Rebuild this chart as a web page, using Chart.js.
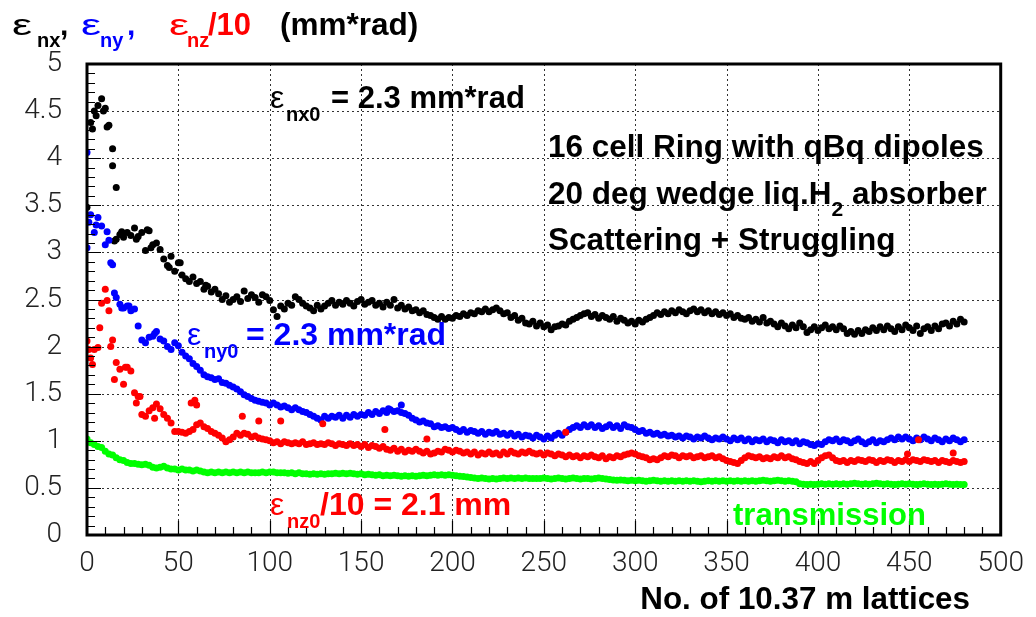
<!DOCTYPE html>
<html>
<head>
<meta charset="utf-8">
<script src="https://cdn.jsdelivr.net/npm/chart.js@4.4.1/dist/chart.umd.min.js"></script>
<style>
  html, body { margin: 0; padding: 0; background: #fff; }
  #chartCanvas { display: block; }
</style>
</head>
<body>
<canvas id="chartCanvas" width="1036" height="617"></canvas>
<script>
// --- data: one value every 2 lattices, x = 0..480 ---
const LATTICE_STEP = 2;

const emitX = [
  3.48,4.38,4.50,4.56,4.63,4.53,4.35,4.10,3.14,3.19,
  3.16,3.21,3.18,3.26,3.17,3.21,3.02,3.23,3.08,3.10,
  3.03,2.93,2.86,2.96,2.80,2.89,2.76,2.72,2.69,2.74,
  2.67,2.69,2.61,2.64,2.58,2.61,2.56,2.50,2.54,2.47,
  2.50,2.53,2.48,2.59,2.51,2.55,2.52,2.47,2.55,2.53,
  2.49,2.39,2.32,2.43,2.40,2.46,2.44,2.53,2.50,2.46,
  2.43,2.41,2.38,2.44,2.40,2.43,2.46,2.49,2.44,2.47,
  2.45,2.49,2.46,2.43,2.48,2.50,2.45,2.47,2.49,2.44,
  2.46,2.42,2.47,2.44,2.50,2.41,2.44,2.40,2.42,2.38,
  2.39,2.36,2.38,2.34,2.33,2.31,2.29,2.32,2.29,2.31,
  2.30,2.33,2.32,2.35,2.33,2.36,2.35,2.38,2.37,2.40,
  2.37,2.39,2.41,2.38,2.35,2.36,2.31,2.33,2.28,2.30,
  2.25,2.24,2.27,2.22,2.25,2.21,2.23,2.18,2.21,2.22,
  2.24,2.23,2.27,2.29,2.31,2.33,2.35,2.36,2.32,2.34,
  2.30,2.33,2.31,2.29,2.32,2.27,2.30,2.28,2.25,2.27,
  2.24,2.28,2.26,2.29,2.31,2.33,2.36,2.34,2.37,2.35,
  2.38,2.36,2.39,2.37,2.35,2.38,2.40,2.37,2.39,2.36,
  2.38,2.35,2.37,2.34,2.36,2.33,2.35,2.31,2.33,2.30,
  2.29,2.31,2.27,2.29,2.26,2.31,2.25,2.27,2.24,2.21,
  2.25,2.22,2.19,2.23,2.20,2.25,2.21,2.15,2.18,2.21,
  2.17,2.20,2.23,2.19,2.21,2.18,2.22,2.19,2.14,2.16,
  2.13,2.17,2.14,2.18,2.16,2.20,2.17,2.21,2.18,2.22,
  2.19,2.16,2.21,2.18,2.23,2.20,2.17,2.22,2.14,2.19,
  2.21,2.17,2.22,2.19,2.24,2.25,2.22,2.27,2.24,2.29,
  2.26
];

const emitY = [
  3.05,3.40,3.21,3.37,3.28,3.08,3.13,2.87,2.52,2.45,
  2.41,2.43,2.38,2.40,2.22,2.07,2.04,2.10,2.11,2.16,
  2.08,2.06,2.00,1.97,2.04,2.01,1.94,1.90,1.87,1.82,
  1.79,1.75,1.70,1.68,1.67,1.65,1.66,1.62,1.61,1.59,
  1.57,1.55,1.52,1.49,1.47,1.45,1.43,1.42,1.41,1.40,
  1.38,1.40,1.38,1.36,1.37,1.35,1.33,1.35,1.33,1.31,
  1.30,1.28,1.26,1.24,1.22,1.26,1.24,1.26,1.25,1.27,
  1.24,1.27,1.25,1.28,1.26,1.28,1.27,1.30,1.28,1.31,
  1.29,1.32,1.30,1.33,1.31,1.32,1.30,1.29,1.27,1.24,
  1.22,1.20,1.21,1.19,1.18,1.15,1.16,1.14,1.15,1.13,
  1.14,1.12,1.10,1.12,1.09,1.11,1.10,1.08,1.10,1.07,
  1.09,1.08,1.10,1.07,1.08,1.06,1.08,1.05,1.07,1.04,
  1.06,1.05,1.03,1.06,1.04,1.02,1.05,1.03,1.06,1.08,
  1.06,1.09,1.12,1.14,1.16,1.14,1.17,1.15,1.17,1.14,
  1.16,1.13,1.15,1.17,1.14,1.16,1.13,1.17,1.15,1.14,
  1.12,1.10,1.11,1.08,1.09,1.07,1.08,1.06,1.07,1.05,
  1.06,1.04,1.05,1.03,1.05,1.04,1.02,1.04,1.03,1.05,
  1.03,1.01,1.03,1.02,1.04,1.02,1.00,1.03,1.01,1.03,
  1.00,1.02,0.99,1.01,1.00,1.02,0.99,1.01,1.00,0.98,
  1.01,0.99,1.00,0.98,1.00,0.97,0.99,0.98,0.96,0.95,
  0.97,0.96,0.99,1.01,1.00,1.02,0.99,1.01,1.00,0.98,
  1.00,1.02,0.99,0.97,0.99,1.01,0.98,1.00,0.99,1.01,
  1.03,1.01,1.04,1.02,1.04,1.02,1.00,1.03,1.01,1.04,
  1.02,1.00,1.03,1.01,0.99,1.02,1.00,1.03,1.01,0.99,
  1.01
];

// eps_nz / 10
const emitZ = [
  2.06,1.88,1.97,1.99,2.46,2.61,2.38,2.07,1.83,1.76,
  1.60,1.78,1.74,1.51,1.47,1.28,1.26,1.32,1.35,1.39,
  1.34,1.28,1.24,1.19,1.10,1.10,1.09,1.08,1.10,1.12,
  1.17,1.19,1.15,1.13,1.10,1.08,1.06,1.03,0.99,1.01,
  1.04,1.08,1.06,1.08,1.07,1.04,1.05,1.03,1.02,1.01,
  1.00,0.98,0.99,0.97,0.99,0.98,0.97,0.98,0.97,0.99,
  0.96,0.97,0.98,0.96,0.97,0.96,0.98,0.97,0.95,0.97,
  0.96,0.95,0.97,0.95,0.96,0.94,0.96,0.93,0.95,0.94,
  0.92,0.94,0.91,0.90,0.92,0.89,0.91,0.88,0.90,0.89,
  0.91,0.89,0.87,0.89,0.86,0.87,0.89,0.88,0.91,0.90,
  0.88,0.90,0.89,0.87,0.88,0.86,0.88,0.85,0.87,0.86,
  0.88,0.86,0.87,0.85,0.88,0.86,0.89,0.87,0.86,0.88,
  0.87,0.89,0.87,0.86,0.87,0.85,0.87,0.86,0.84,0.86,
  0.85,0.83,0.85,0.83,0.84,0.82,0.84,0.83,0.85,0.83,
  0.82,0.84,0.81,0.83,0.82,0.84,0.83,0.85,0.86,0.87,
  0.86,0.84,0.83,0.82,0.80,0.81,0.80,0.82,0.84,0.83,
  0.85,0.84,0.82,0.84,0.83,0.84,0.82,0.83,0.84,0.82,
  0.83,0.84,0.82,0.83,0.81,0.79,0.78,0.77,0.76,0.79,
  0.82,0.84,0.83,0.82,0.83,0.81,0.82,0.81,0.83,0.82,
  0.84,0.82,0.83,0.81,0.80,0.78,0.77,0.76,0.78,0.76,
  0.79,0.82,0.84,0.85,0.82,0.79,0.78,0.79,0.77,0.79,
  0.78,0.80,0.79,0.78,0.80,0.79,0.77,0.79,0.78,0.80,
  0.79,0.77,0.79,0.78,0.80,0.78,0.80,0.79,0.78,0.80,
  0.79,0.78,0.79,0.77,0.79,0.78,0.77,0.79,0.78,0.77,
  0.78
];

const transmission = [
  1.02,0.98,0.96,0.94,0.93,0.89,0.86,0.85,0.82,0.80,
  0.79,0.77,0.76,0.76,0.75,0.745,0.75,0.74,0.72,0.71,
  0.72,0.73,0.71,0.70,0.70,0.69,0.70,0.69,0.69,0.68,
  0.69,0.68,0.67,0.66,0.67,0.66,0.67,0.66,0.67,0.66,
  0.67,0.66,0.67,0.66,0.67,0.66,0.66,0.66,0.67,0.66,
  0.67,0.67,0.66,0.66,0.66,0.655,0.66,0.65,0.66,0.65,
  0.65,0.645,0.65,0.645,0.65,0.645,0.65,0.65,0.655,0.65,
  0.655,0.65,0.655,0.65,0.645,0.65,0.64,0.645,0.64,0.635,
  0.64,0.63,0.635,0.63,0.635,0.63,0.625,0.63,0.625,0.63,
  0.625,0.63,0.635,0.63,0.635,0.64,0.635,0.64,0.635,0.64,
  0.635,0.63,0.625,0.62,0.615,0.61,0.605,0.60,0.605,0.60,
  0.595,0.60,0.595,0.60,0.605,0.60,0.605,0.60,0.605,0.60,
  0.605,0.60,0.60,0.60,0.60,0.605,0.60,0.595,0.60,0.605,
  0.60,0.595,0.60,0.605,0.60,0.595,0.60,0.60,0.595,0.60,
  0.605,0.60,0.595,0.59,0.585,0.58,0.585,0.58,0.575,0.58,
  0.575,0.58,0.575,0.57,0.575,0.58,0.575,0.57,0.575,0.57,
  0.575,0.57,0.575,0.57,0.575,0.57,0.575,0.57,0.565,0.57,
  0.575,0.57,0.575,0.57,0.575,0.57,0.575,0.57,0.575,0.57,
  0.575,0.57,0.575,0.57,0.575,0.58,0.575,0.57,0.575,0.58,
  0.575,0.57,0.575,0.57,0.565,0.545,0.54,0.535,0.54,0.535,
  0.54,0.545,0.54,0.545,0.54,0.545,0.54,0.545,0.54,0.545,
  0.55,0.545,0.54,0.545,0.54,0.545,0.55,0.545,0.54,0.545,
  0.54,0.535,0.54,0.545,0.54,0.545,0.54,0.535,0.54,0.545,
  0.54,0.535,0.54,0.535,0.54,0.545,0.54,0.535,0.54,0.535,
  0.535
];

// stray points that sit off the main bands, [lattice, value]
const emitXStray = [[3,4.31],[5,4.45],[9,4.50],[11,4.33],[14,3.92],[16,3.69],[15,3.12],[19,3.22],[27,3.14],[33,3.24],[35,3.05],[45,2.84],[51,2.89],[65,2.65]];
const emitYStray = [[0,4.06],[1,3.32],[5,3.29],[11,3.22],[13,2.89],[15,2.57],[19,2.41],[23,2.43],[37,2.14],[165,1.34],[172,1.38]];
const emitZStray = [[1,1.97],[3,1.81],[7,2.20],[11,2.49],[13,2.00],[15,1.65],[21,1.78],[27,1.40],[29,1.47],[37,1.24],[57,1.40],[59,1.43],[60,1.38],[85,1.26],[94,1.21],[106,1.21],[129,1.18],[163,1.12],[186,1.02],[262,1.09],[449,0.86],[455,1.01],[474,0.87]];

const xTicks = [0, 50, 100, 150, 200, 250, 300, 350, 400, 450, 500];
const yTicks = [0, 0.5, 1, 1.5, 2, 2.5, 3, 3.5, 4, 4.5, 5];

// --- helpers ---
const toPoints = (vals, stray) =>
  vals.map((v, i) => ({ x: i * LATTICE_STEP, y: v }))
      .concat((stray || []).map(p => ({ x: p[0], y: p[1] })));

const SANS = '"Liberation Sans", Arial, sans-serif';
const BOLD = s => `bold ${s}px ${SANS}`;
const REG = s => `${s}px ${SANS}`;

function dots(label, vals, stray, color) {
  return {
    label,
    data: toPoints(vals, stray),
    backgroundColor: color,
    borderWidth: 0,
    pointRadius: 3.5,
    pointHoverRadius: 3.5
  };
}

// draw runs of text; each run may set its own x, font, colour, vertical shift, x-stretch
function drawRuns(ctx, y, runs) {
  let x = 0;
  runs.forEach(r => {
    if (r.x !== undefined) x = r.x;
    ctx.font = r.font;
    ctx.fillStyle = r.color;
    ctx.save();
    ctx.translate(x, y + (r.dy || 0));
    ctx.scale(r.sx || 1, 1);
    ctx.fillText(r.text, 0, 0);
    ctx.restore();
    x += ctx.measureText(r.text).width * (r.sx || 1);
  });
}

// dotted grid behind the points
const gridPlugin = {
  id: "dottedGrid",
  beforeDatasetsDraw(chart) {
    const { ctx, chartArea: a, scales: { x, y } } = chart;
    ctx.save();
    ctx.strokeStyle = "#333";
    ctx.lineWidth = 1;
    ctx.setLineDash([2, 3]);
    ctx.beginPath();
    xTicks.slice(1, -1).forEach(v => {
      const px = Math.round(x.getPixelForValue(v)) + 0.5;
      ctx.moveTo(px, a.top); ctx.lineTo(px, a.bottom);
    });
    yTicks.slice(1, -1).forEach(v => {
      const py = Math.round(y.getPixelForValue(v)) + 0.5;
      ctx.moveTo(a.left, py); ctx.lineTo(a.right, py);
    });
    ctx.stroke();
    ctx.restore();
  }
};

// heavy frame, inside tick marks, and all the text
const framePlugin = {
  id: "frameAndText",
  afterDraw(chart) {
    const { ctx, chartArea: a, scales: { x, y } } = chart;
    ctx.save();
    ctx.strokeStyle = "#000";
    ctx.setLineDash([]);
    ctx.lineWidth = 1.2;
    ctx.beginPath();
    for (let v = 10; v < 500; v += 10) {
      const px = Math.round(x.getPixelForValue(v)) + 0.5;
      const len = v % 50 === 0 ? 14 : 8;
      ctx.moveTo(px, a.bottom); ctx.lineTo(px, a.bottom - len);
    }
    for (let k = 1; k < 50; k++) {
      const py = Math.round(y.getPixelForValue(k / 10)) + 0.5;
      const len = k % 5 === 0 ? 14 : 8;
      ctx.moveTo(a.left, py); ctx.lineTo(a.left + len, py);
    }
    ctx.stroke();
    ctx.lineWidth = 3;
    ctx.strokeRect(a.left, a.top, a.right - a.left, a.bottom - a.top);

    ctx.textAlign = "left";
    ctx.textBaseline = "alphabetic";
    const K = "#000", B = "#0000ff", R = "#ff0000", G = "#00ff00";

    // y-axis title
    drawRuns(ctx, 35, [
      { x: 12, text: "ε", font: REG(30), color: K, sx: 1.5 },
      { x: 37, text: "nx", font: BOLD(20), color: K, dy: 12 },
      { x: 60, text: ",", font: BOLD(30), color: K },
      { x: 81, text: "ε", font: REG(30), color: B, sx: 1.5 },
      { x: 100, text: "ny", font: BOLD(20), color: B, dy: 12 },
      { x: 127, text: ",", font: BOLD(30), color: B },
      { x: 169, text: "ε", font: REG(30), color: R, sx: 1.5 },
      { x: 187, text: "nz", font: BOLD(20), color: R, dy: 12 },
      { x: 208, text: "/10", font: BOLD(31), color: R },
      { x: 280, text: "(mm*rad)", font: BOLD(31.5), color: K }
    ]);

    // initial emittances
    drawRuns(ctx, 108, [
      { x: 270, text: "ε", font: REG(32), color: K },
      { x: 286, text: "nx0", font: BOLD(20), color: K, dy: 13 },
      { x: 331, text: "= 2.3 mm*rad", font: BOLD(31), color: K }
    ]);
    drawRuns(ctx, 345, [
      { x: 187, text: "ε", font: REG(32), color: B },
      { x: 204, text: "ny0", font: BOLD(20), color: B, dy: 13 },
      { x: 246, text: "= 2.3 mm*rad", font: BOLD(32), color: B }
    ]);
    drawRuns(ctx, 515, [
      { x: 270, text: "ε", font: REG(32), color: R },
      { x: 287, text: "nz0", font: BOLD(20), color: R, dy: 13 },
      { x: 320, text: "/10 = 2.1 mm", font: BOLD(32), color: R }
    ]);
    drawRuns(ctx, 525, [
      { x: 733, text: "transmission", font: BOLD(31), color: G }
    ]);

    // description block
    drawRuns(ctx, 157, [{ x: 548, text: "16 cell Ring with qBq dipoles", font: BOLD(31.5), color: K }]);
    drawRuns(ctx, 204, [
      { x: 548, text: "20 deg wedge liq.H", font: BOLD(31.5), color: K },
      { text: "2", font: BOLD(21), color: K, dy: 12 },
      { text: " absorber", font: BOLD(31.5), color: K }
    ]);
    drawRuns(ctx, 250, [{ x: 548, text: "Scattering + Struggling", font: BOLD(31.5), color: K }]);

    // x-axis title
    ctx.font = BOLD(31.4);
    ctx.fillStyle = K;
    ctx.textAlign = "right";
    ctx.fillText("No. of 10.37 m lattices", 970, 609);
    ctx.restore();
  }
};

const tickFont = { family: 'Roboto, "Liberation Sans", Arial, sans-serif', size: 28, weight: 300 };

const canvas = document.getElementById("chartCanvas");
new Chart(canvas, {
  type: "scatter",
  data: {
    datasets: [
      dots("eps_nz/10", emitZ, emitZStray, "#ff0000"),
      dots("eps_ny", emitY, emitYStray, "#0000ff"),
      dots("eps_nx", emitX, emitXStray, "#000000"),
      dots("transmission", transmission, [], "#00ff00")
    ]
  },
  options: {
    responsive: false,
    animation: false,
    devicePixelRatio: 1,
    layout: { padding: { left: 0, top: 64, right: 31, bottom: 0 } },
    plugins: { legend: { display: false }, tooltip: { enabled: false } },
    scales: {
      x: {
        type: "linear", min: 0, max: 500,
        afterBuildTicks: s => { s.ticks = xTicks.map(v => ({ value: v })); },
        afterFit: s => { s.height = 82; },
        ticks: { font: tickFont, color: "#222", padding: 12, maxRotation: 0, autoSkip: false,
                 callback: v => String(v) },
        grid: { display: false, drawTicks: false, tickLength: 0 },
        border: { display: false }
      },
      y: {
        min: 0, max: 5,
        afterBuildTicks: s => { s.ticks = yTicks.map(v => ({ value: v })); },
        afterFit: s => { s.width = 87; },
        ticks: { font: tickFont, color: "#222", padding: 25, autoSkip: false,
                 callback: v => String(v) },
        grid: { display: false, drawTicks: false, tickLength: 0 },
        border: { display: false }
      }
    }
  },
  plugins: [gridPlugin, framePlugin]
});
</script>
</body>
</html>
